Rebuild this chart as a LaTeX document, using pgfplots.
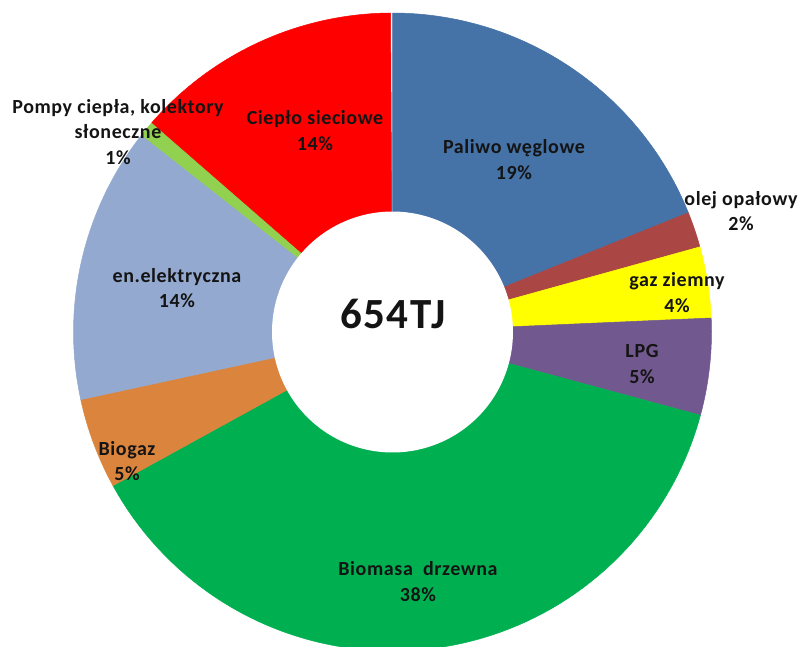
\documentclass[border=0pt]{standalone}
\usepackage{pgfplots}
\usepackage{pgfplotstable}
\pgfplotsset{compat=1.18}
\usepackage{fontspec}
\setmainfont{Carlito}
\newfontfamily\lblfont[LetterSpace=3]{Carlito}

\definecolor{c0}{HTML}{4572A7}
\definecolor{c1}{HTML}{AA4643}
\definecolor{c2}{HTML}{FFFF00}
\definecolor{c3}{HTML}{71588F}
\definecolor{c4}{HTML}{00B050}
\definecolor{c5}{HTML}{DB843D}
\definecolor{c6}{HTML}{93A9CF}
\definecolor{c7}{HTML}{92D050}
\definecolor{c8}{HTML}{FF0000}

\tikzset{lbl/.style={font=\lblfont\fontsize{20}{25.5}\selectfont\bfseries, text=black!92, align=center}}

% share of each source (percent of 654 TJ), clockwise from 12 o'clock
\pgfplotstableread[col sep=comma]{
idx,pct
0,18.9
1,1.8
2,3.6
3,4.9
4,37.8
5,4.6
6,14.0
7,0.8
8,13.5
}\slices

\pgfmathsetmacro\cum{0}
\pgfplotsforeachungrouped \i in {0,...,8}{%
  \pgfplotstablegetelem{\i}{pct}\of\slices
  \pgfmathsetmacro\sA{90-3.6*\cum}%
  \pgfmathsetmacro\cum{\cum+\pgfplotsretval}%
  \pgfmathsetmacro\sB{90-3.6*\cum}%
  \expandafter\xdef\csname sa\i\endcsname{\sA}%
  \expandafter\xdef\csname sb\i\endcsname{\sB}%
}

\begin{document}
\begin{tikzpicture}
\begin{axis}[
  width=801pt, height=646pt, scale only axis,
  xmin=0, xmax=801, ymin=0, ymax=646,
  hide axis, clip=true,
]
\pgfplotsinvokeforeach{0,...,8}{%
  \edef\tmp{\noexpand\addplot[fill=c#1, draw=c#1, line width=0.5pt,
     domain=\csname sb#1\endcsname:\csname sa#1\endcsname, samples=80]
     ({392.5+319*cos(x)},{314+319*sin(x)}) -- (axis cs:392.5,314) -- cycle;}%
  \tmp
}
\addplot[fill=white, draw=none, domain=0:360, samples=160]
  ({392.5+120.5*cos(x)},{314+120.5*sin(x)}) -- cycle;

\node[lbl] at (axis cs:393,332) {\fontsize{43}{50}\selectfont\bfseries 654TJ};
\node[lbl] at (axis cs:514,486.4) {Paliwo węglowe\\19\%};
\node[lbl] at (axis cs:741,434.7) {olej opałowy\\2\%};
\node[lbl] at (axis cs:677,353.5) {gaz ziemny\\4\%};
\node[lbl] at (axis cs:642,281.8) {LPG\\5\%};
\node[lbl] at (axis cs:418,64.5) {Biomasa\ \ drzewna\\38\%};
\node[lbl] at (axis cs:127,185) {Biogaz\\5\%};
\node[lbl] at (axis cs:177,357.7) {en.elektryczna\\14\%};
\node[lbl] at (axis cs:118,514) {Pompy ciepła, kolektory\\słoneczne\\1\%};
\node[lbl] at (axis cs:315,515.2) {Ciepło sieciowe\\14\%};
\end{axis}
\pgfresetboundingbox
\path (current axis.south west) rectangle (current axis.north east);
\end{tikzpicture}
\end{document}
